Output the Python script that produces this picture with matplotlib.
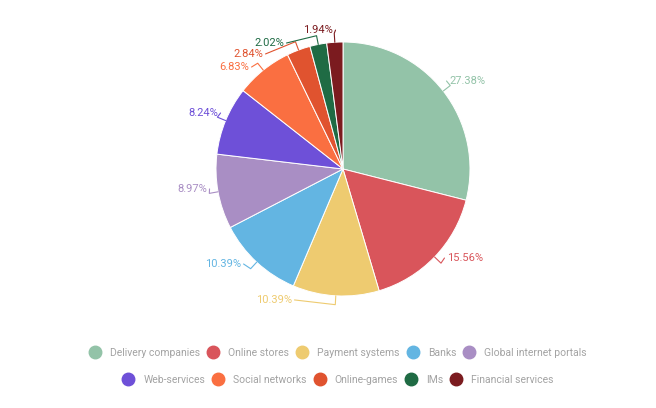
import matplotlib.pyplot as plt
import numpy as np
from matplotlib.lines import Line2D

plt.rcParams['font.family'] = ['Roboto', 'DejaVu Sans']

# data
categories = ["Delivery companies", "Online stores", "Payment systems", "Banks",
              "Global internet portals", "Web-services", "Social networks",
              "Online-games", "IMs", "Financial services"]
shares = [27.38, 15.56, 10.39, 10.39, 8.97, 8.24, 6.83, 2.84, 2.02, 1.94]
colors = ["#93c3a8", "#d9555b", "#eecb70", "#63b5e2", "#a98ec4",
          "#6e50d8", "#fa6f41", "#e0532f", "#1f6b44", "#7b1b1f"]

# label anchor positions (pie radius = 1) and alignment
label_pos = [(0.835, 0.693), (0.819, -0.701), (-0.402, -1.031), (-0.803, -0.748),
             (-1.071, -0.157), (-0.984, 0.441), (-0.740, 0.803), (-0.630, 0.906),
             (-0.465, 0.992), (-0.079, 1.094)]
label_ha = ["left", "left", "right", "right", "right", "right", "right", "right",
            "right", "right"]

fig = plt.figure(figsize=(6.56, 4.08), dpi=100)
ax = fig.add_axes([0, 0, 1, 1])

wedges, _ = ax.pie(shares, colors=colors, startangle=90, counterclock=False,
                   radius=1.0, center=(0, 0), frame=True,
                   wedgeprops=dict(edgecolor="white", linewidth=0.7))
# one data unit = one pie radius = 127 px, centre at (343, 169) px
ax.set_xlim(-343 / 127, (656 - 343) / 127)
ax.set_ylim(-(408 - 169) / 127, 169 / 127)
ax.axis("off")

for w, val, col, (tx, ty), ha in zip(wedges, shares, colors, label_pos, label_ha):
    ang = np.deg2rad((w.theta1 + w.theta2) / 2)
    ex, ey = np.cos(ang), np.sin(ang)
    kx, ky = 1.07 * ex, 1.07 * ey
    gap = 0.02 if ha == "left" else -0.02
    ax.plot([ex, kx, tx - gap], [ey, ky, ty], color=col, lw=0.8,
            solid_capstyle="round")
    ax.text(tx, ty, f"{val:.2f}%", color=col, fontsize=8, ha=ha, va="center")

def make_handles(idx):
    return [Line2D([], [], marker="o", linestyle="", markersize=9,
                   markerfacecolor=colors[i], markeredgecolor=colors[i])
            for i in idx]

legend_style = dict(loc="center", ncol=5, frameon=False, fontsize=7.5,
                    handletextpad=0.94, columnspacing=0.75, handlelength=1.0,
                    labelcolor="#a3a3a3")
row1 = range(0, 5)
row2 = range(5, 10)
fig.legend(make_handles(row1), [categories[i] for i in row1],
           bbox_to_anchor=(0.516, 1 - 353 / 408), **legend_style)
fig.legend(make_handles(row2), [categories[i] for i in row2],
           bbox_to_anchor=(0.516, 1 - 380 / 408), **legend_style)

fig.savefig("out.png", dpi=100)
